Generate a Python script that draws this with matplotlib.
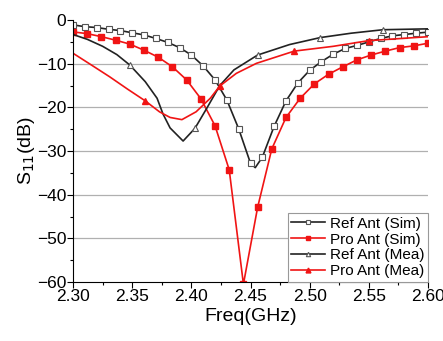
import matplotlib
matplotlib.use("Agg")
import matplotlib.pyplot as plt
from matplotlib.ticker import MultipleLocator

plt.rcParams['font.family'] = ['Liberation Sans', 'DejaVu Sans']

# Ref Ant (Sim): open squares every 0.01 GHz
ref_sim_f = [2.30, 2.31, 2.32, 2.33, 2.34, 2.35, 2.36, 2.37, 2.38, 2.39, 2.40,
             2.41, 2.42, 2.43, 2.44, 2.45, 2.454, 2.46, 2.47, 2.48, 2.49, 2.50,
             2.51, 2.52, 2.53, 2.54, 2.55, 2.56, 2.57, 2.58, 2.59, 2.60]
ref_sim_s = [-1.1, -1.5, -1.7, -2.1, -2.4, -2.9, -3.4, -4.2, -5.1, -6.3, -8.0,
             -10.5, -13.7, -18.3, -24.9, -32.8, -33.8, -31.4, -24.3, -18.5, -14.4, -11.5,
             -9.5, -7.8, -6.5, -5.8, -5.0, -4.2, -3.6, -3.3, -3.0, -2.75]

# Pro Ant (Sim): filled squares every 0.012 GHz
pro_sim_f = [2.300, 2.312, 2.324, 2.336, 2.348, 2.360, 2.372, 2.384, 2.396,
             2.408, 2.420, 2.432, 2.444, 2.456, 2.468, 2.480, 2.492, 2.504,
             2.516, 2.528, 2.540, 2.552, 2.564, 2.576, 2.588, 2.600]
pro_sim_s = [-2.7, -3.1, -3.8, -4.6, -5.5, -6.9, -8.5, -10.7, -13.7,
             -18.0, -24.2, -34.3, -60.5, -42.9, -29.5, -22.3, -17.9, -14.6,
             -12.4, -10.7, -9.1, -8.0, -7.1, -6.3, -5.9, -5.3]

# Ref Ant (Mea)
ref_mea_f = [2.300, 2.312, 2.325, 2.337, 2.348, 2.361, 2.371, 2.376, 2.382,
             2.393, 2.403, 2.413, 2.424, 2.436, 2.456, 2.483, 2.509, 2.535,
             2.562, 2.600]
ref_mea_s = [-3.3, -4.4, -6.0, -7.9, -10.3, -14.1, -17.9, -21.5, -24.7,
             -27.7, -24.8, -20.2, -15.0, -11.4, -8.0, -5.6, -4.0, -3.0,
             -2.2, -2.0]
ref_mea_mk = [4, 10, 14, 16, 18]

# Pro Ant (Mea)
pro_mea_f = [2.300, 2.315, 2.331, 2.346, 2.361, 2.373, 2.382, 2.392, 2.404,
             2.416, 2.424, 2.438, 2.455, 2.487, 2.520, 2.550, 2.600]
pro_mea_s = [-7.6, -10.2, -13.0, -15.8, -18.5, -21.0, -22.3, -22.8, -21.0,
             -17.9, -15.1, -12.2, -9.9, -7.1, -6.0, -4.7, -3.8]
pro_mea_mk = [4, 10, 13, 15]

fig = plt.figure(figsize=(4.43, 3.41), dpi=100)
ax = fig.add_axes([0.165, 0.173, 0.801, 0.768])

ax.plot(ref_sim_f, ref_sim_s, color='#222222', lw=1.2, marker='s', ms=4,
        mfc='white', mec='#555555', mew=0.8,
        markevery=[i for i in range(len(ref_sim_f)) if i != 16],
        label='Ref Ant (Sim)')
ax.plot(pro_sim_f, pro_sim_s, color='#f01414', lw=1.2, marker='s', ms=4,
        label='Pro Ant (Sim)')
ax.plot(ref_mea_f, ref_mea_s, color='#222222', lw=1.2, marker='^', ms=4.5,
        mfc='white', mec='#555555', mew=0.8, markevery=ref_mea_mk,
        label='Ref Ant (Mea)')
ax.plot(pro_mea_f, pro_mea_s, color='#f01414', lw=1.2, marker='^', ms=5,
        markevery=pro_mea_mk, label='Pro Ant (Mea)')

ax.set_xlim(2.30, 2.60)
ax.set_ylim(-60, 0)
ax.xaxis.set_major_locator(MultipleLocator(0.05))
ax.xaxis.set_minor_locator(MultipleLocator(0.025))
ax.yaxis.set_major_locator(MultipleLocator(10))
ax.yaxis.set_minor_locator(MultipleLocator(5))
ax.set_xticklabels([f"{v:.2f}" for v in ax.get_xticks()])
ax.tick_params(which='major', length=4, width=0.8, labelsize=12.5, pad=1)
ax.tick_params(which='minor', length=2, width=0.8)
for y in [-10, -20, -30, -40, -50]:
    ax.axhline(y, color='#b0b0b0', lw=0.9, zorder=0)
ax.spines['top'].set_visible(False)
ax.spines['right'].set_visible(False)

ax.set_xlabel('Freq(GHz)', fontsize=14, labelpad=3)
ax.set_ylabel('S$_{11}$(dB)', fontsize=14, labelpad=0)

leg = ax.legend(loc='lower right', fontsize=11, handlelength=2.2,
                handletextpad=0.3, borderaxespad=0, borderpad=0.25,
                labelspacing=0.12, fancybox=False, framealpha=1,
                edgecolor='#999999', markerscale=0.7)
leg.get_frame().set_linewidth(0.8)

fig.savefig('out.png', dpi=100)
